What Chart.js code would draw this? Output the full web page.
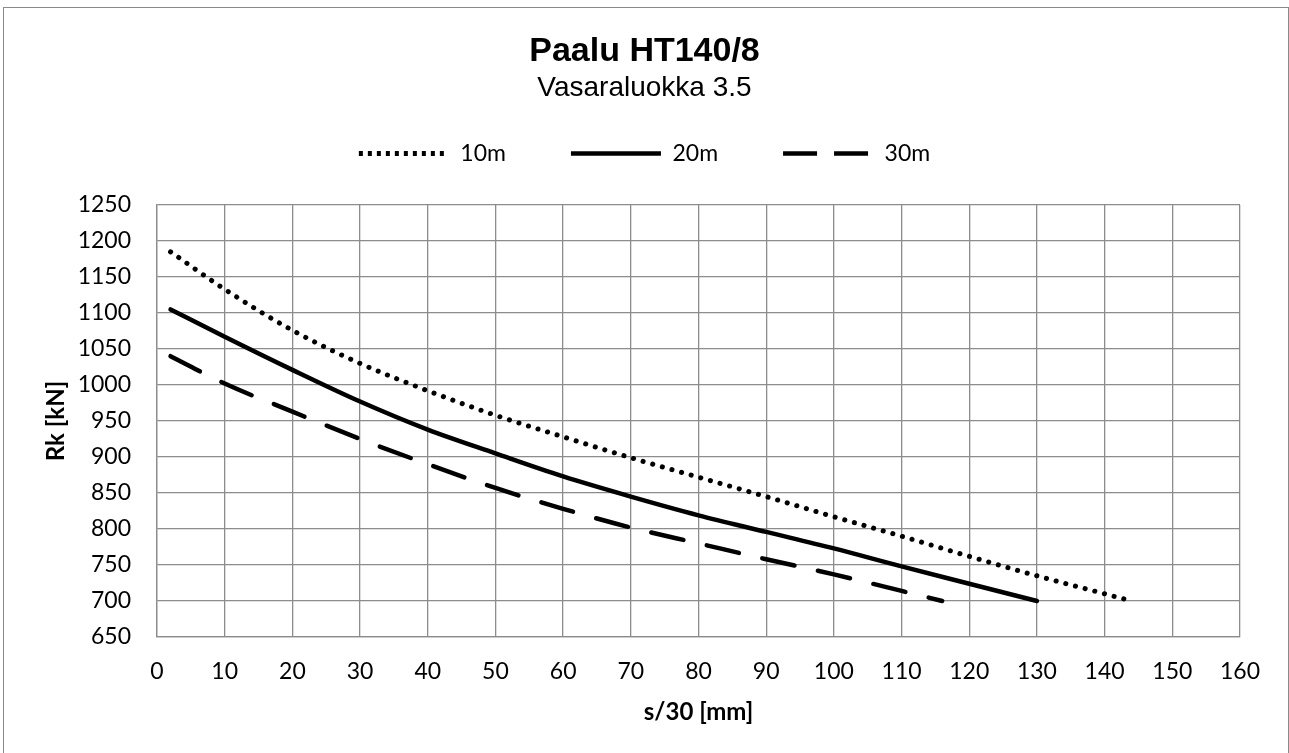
<!DOCTYPE html>
<html>
<head>
<meta charset="utf-8">
<script src="https://cdn.jsdelivr.net/npm/chart.js@4.4.1/dist/chart.umd.min.js"></script>
<style>
  html, body { margin: 0; padding: 0; background: #fff; }
  #wrap { position: relative; width: 1289px; height: 753px; overflow: hidden; }
  #frame {
    position: absolute; left: 3px; top: 7px; width: 1286px; height: 800px;
    box-sizing: border-box; border: 1px solid #8a8a8a; pointer-events: none;
  }
</style>
</head>
<body>
<div id="wrap">
  <canvas id="chart" width="1289" height="753"></canvas>
  <div id="frame"></div>
</div>
<script>
// sarjat: s/30 [mm] -> Rk [kN]
const labels = ['10m', '20m', '30m'];

const s10 = [2, 10, 20, 30, 40, 50, 60, 70, 80, 90, 100, 110, 120, 130, 140, 144];
const rk10 = [1185, 1133, 1076, 1030, 992, 958, 928, 899, 872, 845, 817, 790, 762, 735, 710, 700];

const s20 = [2, 10, 20, 30, 40, 50, 60, 70, 80, 90, 100, 110, 120, 130];
const rk20 = [1105, 1067, 1021, 977, 938, 905, 873, 845, 819, 796, 773, 748, 724, 700];

const s30 = [2, 10, 20, 30, 40, 50, 60, 70, 80, 90, 100, 110, 116];
const rk30 = [1040, 1002, 963, 925, 890, 857, 828, 802, 780, 758, 737, 714, 700];

const xTicks = { min: 0, max: 160, step: 10 };
const yTicks = { min: 650, max: 1250, step: 50 };

const gridColor = '#8c8c8c';

function toPoints(xs, ys) {
  return xs.map((x, i) => ({ x: x, y: ys[i] }));
}

function lineSet(label, xs, ys, dash, width, legendDash, legendCap) {
  return {
    label: label,
    data: toPoints(xs, ys),
    borderColor: '#000',
    backgroundColor: '#000',
    borderWidth: width,
    borderDash: dash,
    borderCapStyle: 'round',
    pointRadius: 0,
    pointHoverRadius: 0,
    cubicInterpolationMode: 'monotone',
    fill: false,
    legendDash: legendDash,
    legendCap: legendCap
  };
}

// legendan viivatyylit datasetista (pointStyle-tilassa oletus ei kopioi niitä)
function legendLabels(chart) {
  return Chart.defaults.plugins.legend.labels.generateLabels(chart).map((item) => {
    const ds = chart.data.datasets[item.datasetIndex];
    item.lineDash = ds.legendDash;
    item.lineCap = ds.legendCap;
    item.lineWidth = ds.borderWidth;
    item.strokeStyle = ds.borderColor;
    return item;
  });
}

Chart.defaults.font.family = 'Lato';
Chart.defaults.color = '#000';

new Chart(document.getElementById('chart').getContext('2d'), {
  type: 'line',
  data: {
    datasets: [
      lineSet(labels[0], s10, rk10, [0.1, 9.9], 5, [4, 5], 'butt'),
      lineSet(labels[1], s20, rk20, [], 4.5, [], 'butt'),
      lineSet(labels[2], s30, rk30, [33, 24], 4.5, [34, 17], 'butt')
    ]
  },
  options: {
    responsive: false,
    animation: false,
    layout: { padding: 0 },
    plugins: {
      title: {
        display: true,
        text: 'Paalu HT140/8',
        font: { family: 'Liberation Sans', size: 34, weight: 'bold', lineHeight: 1 },
        padding: { top: 35, bottom: 0 },
        color: '#000'
      },
      subtitle: {
        display: true,
        text: 'Vasaraluokka 3.5',
        font: { family: 'Liberation Sans', size: 28, lineHeight: 0.4 },
        padding: { top: 13.4, bottom: -16.6 },
        color: '#000'
      },
      legend: {
        position: 'top',
        labels: {
          usePointStyle: true,
          pointStyle: 'line',
          pointStyleWidth: 90,
          padding: 65,
          font: { size: 23 },
          color: '#000',
          generateLabels: legendLabels
        }
      },
      tooltip: { enabled: false }
    },
    scales: {
      x: {
        type: 'linear',
        position: 'bottom',
        min: xTicks.min,
        max: xTicks.max,
        ticks: {
          stepSize: xTicks.step, padding: 21, font: { size: 23 }, color: '#000',
          callback: (v) => String(v)
        },
        grid: { color: gridColor, lineWidth: 1.3, drawTicks: false },
        border: { color: gridColor, width: 1.3 },
        title: {
          display: true,
          text: 's/30 [mm]',
          font: { size: 24, weight: 'bold' },
          padding: { top: 0, bottom: 26.6 },
          color: '#000'
        },
        afterFit: (s) => { s.height = 116; }
      },
      y: {
        type: 'linear',
        position: 'left',
        min: yTicks.min,
        max: yTicks.max,
        ticks: {
          stepSize: yTicks.step, padding: 26, font: { size: 23 }, color: '#000',
          callback: (v) => String(v)
        },
        grid: { color: gridColor, lineWidth: 1.3, drawTicks: false },
        border: { color: gridColor, width: 1.3 },
        title: {
          display: true,
          text: 'Rk [kN]',
          font: { size: 24, weight: 'bold' },
          padding: { top: 41.6, bottom: 0 },
          color: '#000'
        },
        afterFit: (s) => { s.width = 157; }
      },
      // tyhjat apuakselit: vain tilanvaraus ylös ja oikealle
      xTop: {
        type: 'linear',
        position: 'top',
        display: true,
        ticks: { display: false },
        grid: { display: false },
        border: { display: false },
        afterFit: (s) => { s.height = 30; }
      },
      yRight: {
        type: 'linear',
        position: 'right',
        display: true,
        ticks: { display: false },
        grid: { display: false },
        border: { display: false },
        afterFit: (s) => { s.width = 49; }
      }
    }
  }
});
</script>
</body>
</html>
